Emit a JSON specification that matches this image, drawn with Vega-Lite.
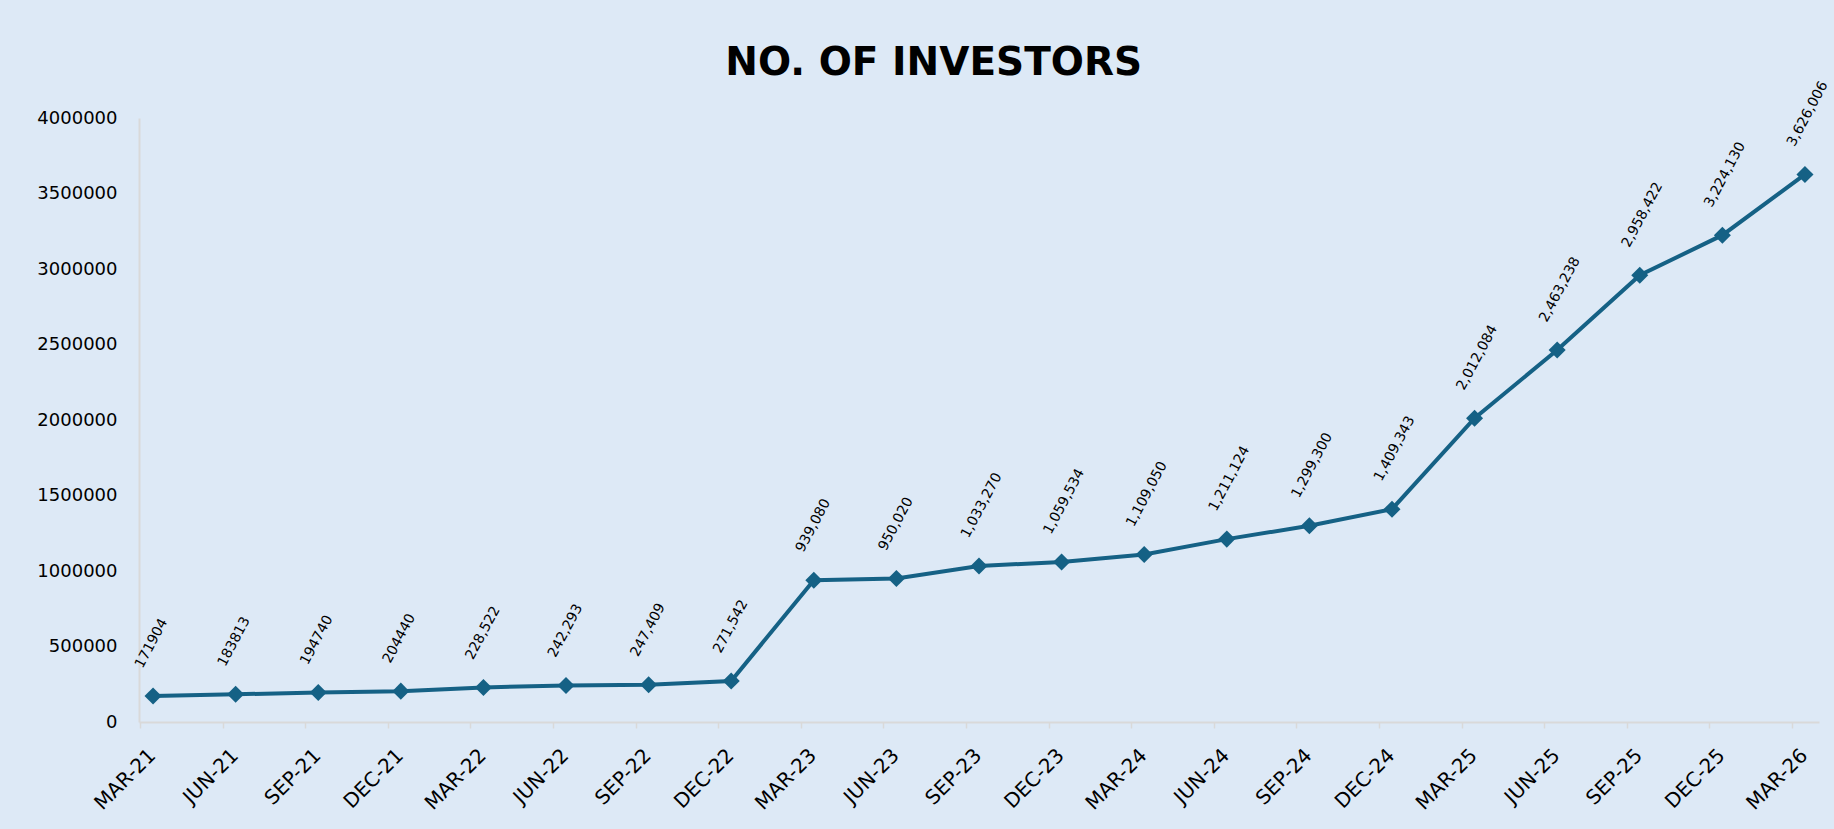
{
  "$schema": "https://vega.github.io/schema/vega-lite/v6.json",
  "autosize": {"type": "none"},
  "width": 1680,
  "height": 604,
  "padding": {"left": 139, "top": 118, "right": 15, "bottom": 107},
  "background": "#dde9f6",
  "title": {
    "text": "NO. OF INVESTORS",
    "font": "DejaVu Sans",
    "fontSize": 39,
    "fontWeight": "bold",
    "color": "#000000",
    "anchor": "middle",
    "frame": "bounds",
    "offset": -4
  },
  "data": {
    "values": [
      {"quarter": "MAR-21", "investors": 171904, "label": "171904"},
      {"quarter": "JUN-21", "investors": 183813, "label": "183813"},
      {"quarter": "SEP-21", "investors": 194740, "label": "194740"},
      {"quarter": "DEC-21", "investors": 204440, "label": "204440"},
      {"quarter": "MAR-22", "investors": 228522, "label": "228,522"},
      {"quarter": "JUN-22", "investors": 242293, "label": "242,293"},
      {"quarter": "SEP-22", "investors": 247409, "label": "247,409"},
      {"quarter": "DEC-22", "investors": 271542, "label": "271,542"},
      {"quarter": "MAR-23", "investors": 939080, "label": "939,080"},
      {"quarter": "JUN-23", "investors": 950020, "label": "950,020"},
      {"quarter": "SEP-23", "investors": 1033270, "label": "1,033,270"},
      {"quarter": "DEC-23", "investors": 1059534, "label": "1,059,534"},
      {"quarter": "MAR-24", "investors": 1109050, "label": "1,109,050"},
      {"quarter": "JUN-24", "investors": 1211124, "label": "1,211,124"},
      {"quarter": "SEP-24", "investors": 1299300, "label": "1,299,300"},
      {"quarter": "DEC-24", "investors": 1409343, "label": "1,409,343"},
      {"quarter": "MAR-25", "investors": 2012084, "label": "2,012,084"},
      {"quarter": "JUN-25", "investors": 2463238, "label": "2,463,238"},
      {"quarter": "SEP-25", "investors": 2958422, "label": "2,958,422"},
      {"quarter": "DEC-25", "investors": 3224130, "label": "3,224,130"},
      {"quarter": "MAR-26", "investors": 3626006, "label": "3,626,006"}
    ]
  },
  "encoding": {
    "x": {
      "field": "quarter",
      "type": "ordinal",
      "sort": null,
      "scale": {"type": "point", "padding": 0.17},
      "axis": {
        "title": null,
        "domainColor": "#d9d9d9",
        "domainWidth": 2,
        "tickColor": "#d9d9d9",
        "tickWidth": 1.5,
        "tickSize": 6,
        "tickOffset": -13,
        "labelOffset": 12,
        "labelAngle": -45,
        "labelAlign": "right",
        "labelBaseline": "middle",
        "labelPadding": 24,
        "labelFont": "DejaVu Sans",
        "labelFontSize": 20,
        "labelColor": "#000000",
        "grid": false
      }
    },
    "y": {
      "field": "investors",
      "type": "quantitative",
      "scale": {"domain": [0, 4000000], "nice": false},
      "axis": {
        "title": null,
        "values": [0, 500000, 1000000, 1500000, 2000000, 2500000, 3000000, 3500000, 4000000],
        "format": "d",
        "domainColor": "#d9d9d9",
        "domainWidth": 2,
        "ticks": false,
        "tickSize": 0,
        "labelPadding": 22,
        "labelFont": "DejaVu Sans",
        "labelFontSize": 18,
        "labelColor": "#000000",
        "grid": false
      }
    }
  },
  "layer": [
    {
      "mark": {"type": "line", "color": "#156185", "strokeWidth": 4}
    },
    {
      "mark": {"type": "point", "shape": "diamond", "filled": true, "size": 290, "color": "#156185", "opacity": 1}
    },
    {
      "mark": {
        "type": "text",
        "angle": -62,
        "align": "left",
        "baseline": "middle",
        "dx": 19,
        "dy": -26,
        "font": "DejaVu Sans",
        "fontSize": 14,
        "color": "#000000"
      },
      "encoding": {"text": {"field": "label"}}
    }
  ],
  "config": {"view": {"stroke": null}}
}
